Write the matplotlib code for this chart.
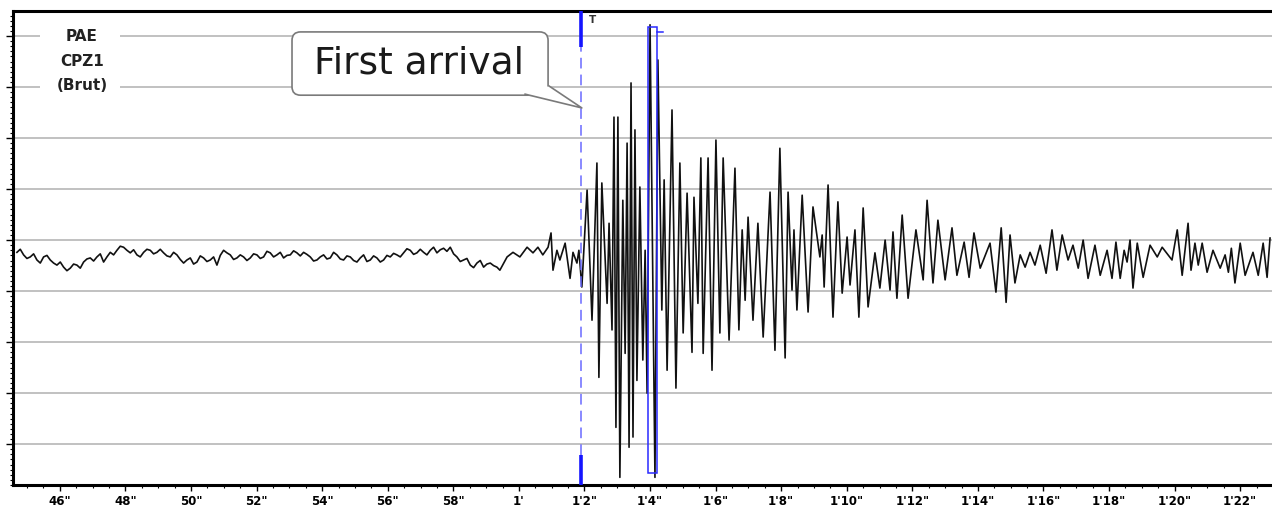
import numpy as np
import matplotlib
matplotlib.use('Agg')
import matplotlib.pyplot as plt
from matplotlib.patches import FancyBboxPatch, Polygon, Rectangle
from matplotlib.ticker import MultipleLocator

# --- data -------------------------------------------------------------
# background noise before the arrival, evenly sampled between these times (s)
noise_start, noise_end = 44.69, 59.33
noise_amp = [-0.24, -0.18, -0.29, -0.36, -0.33, -0.27, -0.39, -0.45, -0.33, -0.30,
             -0.39, -0.45, -0.49, -0.43, -0.53, -0.60, -0.55, -0.47, -0.49, -0.55,
             -0.43, -0.37, -0.35, -0.41, -0.33, -0.27, -0.43, -0.33, -0.24, -0.29,
             -0.20, -0.12, -0.14, -0.20, -0.25, -0.19, -0.29, -0.33, -0.24, -0.18,
             -0.20, -0.27, -0.24, -0.18, -0.25, -0.31, -0.33, -0.24, -0.29, -0.38,
             -0.45, -0.39, -0.35, -0.47, -0.43, -0.31, -0.35, -0.42, -0.39, -0.33,
             -0.49, -0.30, -0.20, -0.25, -0.29, -0.38, -0.35, -0.29, -0.33, -0.40,
             -0.35, -0.27, -0.29, -0.36, -0.33, -0.22, -0.25, -0.33, -0.29, -0.24,
             -0.35, -0.30, -0.29, -0.21, -0.25, -0.31, -0.24, -0.28, -0.33, -0.41,
             -0.39, -0.33, -0.29, -0.37, -0.35, -0.24, -0.29, -0.37, -0.39, -0.31,
             -0.33, -0.40, -0.43, -0.35, -0.29, -0.42, -0.39, -0.31, -0.35, -0.43,
             -0.39, -0.30, -0.33, -0.26, -0.29, -0.33, -0.25, -0.17, -0.20, -0.28,
             -0.25, -0.18, -0.24, -0.29, -0.20, -0.14, -0.25, -0.19, -0.16, -0.22,
             -0.14, -0.27, -0.33, -0.42, -0.39, -0.36, -0.49, -0.54, -0.45, -0.40,
             -0.53, -0.47, -0.45, -0.50, -0.53]

# pre-arrival wiggles and the event itself (peaks / troughs)
event_t = [59.42, 59.64, 59.82, 60.03, 60.25, 60.43, 60.58, 60.73, 60.89, 60.98,
           61.04, 61.16, 61.25, 61.41, 61.56, 61.65, 61.77, 61.83, 61.92,
           62.08, 62.23, 62.38, 62.44, 62.53, 62.69, 62.75, 62.84, 62.90, 62.96,
           63.02, 63.08, 63.17, 63.24, 63.30, 63.36, 63.42, 63.48, 63.54, 63.60,
           63.69, 63.78, 63.85, 63.91, 64.00, 64.15, 64.24, 64.36, 64.43, 64.52,
           64.67, 64.79, 64.91, 65.01, 65.13, 65.28, 65.34, 65.46, 65.55, 65.62,
           65.77, 65.89, 66.01, 66.13, 66.23, 66.41, 66.59, 66.71, 66.81, 66.90,
           66.99, 67.14, 67.29, 67.45, 67.66, 67.81, 67.96, 68.12, 68.21, 68.33,
           68.39, 68.48, 68.64, 68.82, 68.97, 69.18, 69.25, 69.31, 69.43, 69.58,
           69.73, 69.86, 70.01, 70.10, 70.25, 70.37, 70.50, 70.65, 70.86, 71.01,
           71.17, 71.32, 71.41, 71.53, 71.69, 71.87, 72.11, 72.33, 72.45, 72.63,
           72.78, 73.00, 73.21, 73.36, 73.58, 73.73, 73.88, 74.07, 74.37, 74.55,
           74.71, 74.86, 74.98, 75.13, 75.29, 75.44, 75.59, 75.74, 75.90, 76.08,
           76.26, 76.41, 76.57, 76.75, 76.90, 77.06, 77.21, 77.36, 77.57, 77.73,
           77.94, 78.09, 78.21, 78.34, 78.46, 78.55, 78.64, 78.73, 78.86, 79.04,
           79.25, 79.47, 79.62, 79.92, 80.08, 80.23, 80.41, 80.50, 80.62, 80.72,
           80.84, 80.99, 81.17, 81.39, 81.54, 81.64, 81.73, 81.84, 82.00, 82.15,
           82.39, 82.55, 82.70, 82.82, 82.91]
event_amp = [-0.59, -0.33, -0.24, -0.33, -0.14, -0.25, -0.14, -0.29, -0.14, 0.14,
             -0.59, -0.20, -0.39, -0.06, -0.75, -0.24, -0.45, -0.20, -0.92,
             0.98, -1.57, 1.51, -2.69, 1.12, -1.24, 0.33, -1.76, 2.41, -3.67,
             2.41, -4.65, 0.78, -2.22, 1.90, -4.06, 3.08, -3.86, 2.16, -2.75,
             1.04, -2.35, -0.20, -3.00, 4.22, -4.65, 3.53, -1.37, 1.18, -2.55,
             2.55, -2.90, 1.51, -1.82, 0.92, -2.20, 0.84, -1.24, 1.61, -2.22,
             1.61, -2.55, 1.96, -1.82, 1.61, -1.96, 1.41, -1.76, 0.20, -1.18,
             0.45, -1.57, 0.33, -1.90, 0.94, -2.16, 1.80, -2.31, 0.94, -0.98,
             0.20, -1.37, 0.88, -1.41, 0.65, -0.33, 0.10, -0.92, 1.08, -1.51,
             0.75, -1.04, 0.06, -0.88, 0.20, -1.51, 0.63, -1.31, -0.25, -0.94,
             0.00, -0.98, 0.16, -1.14, 0.49, -1.14, 0.20, -0.78, 0.78, -0.84,
             0.39, -0.78, 0.24, -0.69, -0.04, -0.73, 0.14, -0.55, -0.06, -1.02,
             0.24, -1.22, 0.10, -0.84, -0.29, -0.53, -0.24, -0.49, -0.10, -0.65,
             0.20, -0.59, 0.10, -0.39, -0.10, -0.55, 0.00, -0.75, -0.10, -0.69,
             -0.20, -0.75, -0.04, -0.75, -0.20, -0.43, 0.00, -0.94, -0.06, -0.73,
             -0.10, -0.33, -0.14, -0.39, 0.20, -0.69, 0.33, -0.59, -0.06, -0.49,
             -0.06, -0.63, -0.20, -0.55, -0.29, -0.63, -0.16, -0.84, -0.06, -0.69,
             -0.24, -0.69, -0.06, -0.73, 0.04]

arrival_time = 61.9
pick_box = (63.94, 64.21, -4.57, 4.18)   # t0, t1, a0, a1

tick_secs = list(range(46, 83, 2))
tick_labels = ['46"', '48"', '50"', '52"', '54"', '56"', '58"', "1'", "1'2\"",
               "1'4\"", "1'6\"", "1'8\"", "1'10\"", "1'12\"", "1'14\"", "1'16\"",
               "1'18\"", "1'20\"", "1'22\""]
station_lines = ['PAE', 'CPZ1', '(Brut)']

# --- figure -----------------------------------------------------------
W, H = 1272, 515
fig = plt.figure(figsize=(W / 100, H / 100), dpi=100)
ax = fig.add_axes([13 / W, 1 - 485 / H, 1 - 13 / W, (485 - 11) / H])

noise_t = np.linspace(noise_start, noise_end, len(noise_amp))
trace_t = np.concatenate([noise_t, event_t])
trace_a = np.concatenate([noise_amp, event_amp])
ax.plot(trace_t, trace_a, color='#111111', lw=1.2, zorder=2)

ax.set_xlim(44.57, 82.97)
ax.set_ylim(-4.8, 4.49)

# grid + ticks
ax.set_yticks(range(-4, 5))
ax.set_yticklabels([])
ax.yaxis.set_minor_locator(MultipleLocator(0.1))
ax.yaxis.grid(True, color='#b0b0b0', lw=1.1, zorder=0)
ax.set_axisbelow(True)
ax.set_xticks(tick_secs)
ax.set_xticklabels(tick_labels, fontsize=8.5, fontweight='bold')
ax.xaxis.set_minor_locator(MultipleLocator(0.5))
ax.tick_params(axis='y', which='major', length=5, width=1, direction='out')
ax.tick_params(axis='y', which='minor', length=2, width=0.8, direction='out')
ax.tick_params(axis='x', which='major', length=4, width=1, pad=3, direction='out')
ax.tick_params(axis='x', which='minor', length=2, width=0.8, direction='out')
for side in ['left', 'top', 'bottom']:
    ax.spines[side].set_linewidth(2.2)
ax.spines['right'].set_visible(False)

# pick line: thick ends, dashed middle
ax.plot([arrival_time, arrival_time], [3.78, 4.49], color='#1414ff', lw=2.6, zorder=3,
        solid_capstyle='butt')
ax.plot([arrival_time, arrival_time], [-4.8, -4.22], color='#1414ff', lw=2.6, zorder=3,
        solid_capstyle='butt')
ax.plot([arrival_time, arrival_time], [-4.22, 3.78], color='#6a6aff', lw=1.1, zorder=3,
        dashes=(7, 4))
ax.text(arrival_time + 0.36, 4.31, 'T', fontsize=7.5, fontweight='bold', color='#333333',
        ha='center', va='center', zorder=4)

# picked peak box
t0, t1, a0, a1 = pick_box
ax.add_patch(Rectangle((t0, a0), t1 - t0, a1 - a0, fill=False, edgecolor='#2a2aff',
                       lw=1.1, zorder=3))
ax.plot([t1, t1 + 0.19], [4.08, 4.08], color='#2a2aff', lw=1.1, zorder=3)

# station label on white background
ax.add_patch(Rectangle((45.39, 2.85), 2.44, 1.4, facecolor='white', edgecolor='none',
                       zorder=1))
for line, a in zip(station_lines, [4.0, 3.51, 3.03]):
    ax.text(46.67, a, line, fontsize=11, fontweight='bold', color='#222222',
            ha='center', va='center', zorder=4)

# callout "First arrival"
box = FancyBboxPatch((53.08, 2.84), 7.81, 1.24,
                     boxstyle='round,pad=0,rounding_size=0.26', mutation_aspect=0.64,
                     facecolor='white', edgecolor='#7a7a7a', lw=1.2, zorder=5)
ax.add_patch(box)
tail = [(60.19, 2.86), (61.92, 2.59), (60.92, 3.02)]
ax.add_patch(Polygon(tail, closed=True, facecolor='white', edgecolor='none', zorder=6))
ax.plot([tail[0][0], tail[1][0], tail[2][0]], [tail[0][1], tail[1][1], tail[2][1]],
        color='#7a7a7a', lw=1.2, zorder=6)
ax.text(56.95, 3.47, 'First arrival', fontsize=27, color='#1a1a1a',
        ha='center', va='center', zorder=7)

fig.savefig('out.png', dpi=100)
